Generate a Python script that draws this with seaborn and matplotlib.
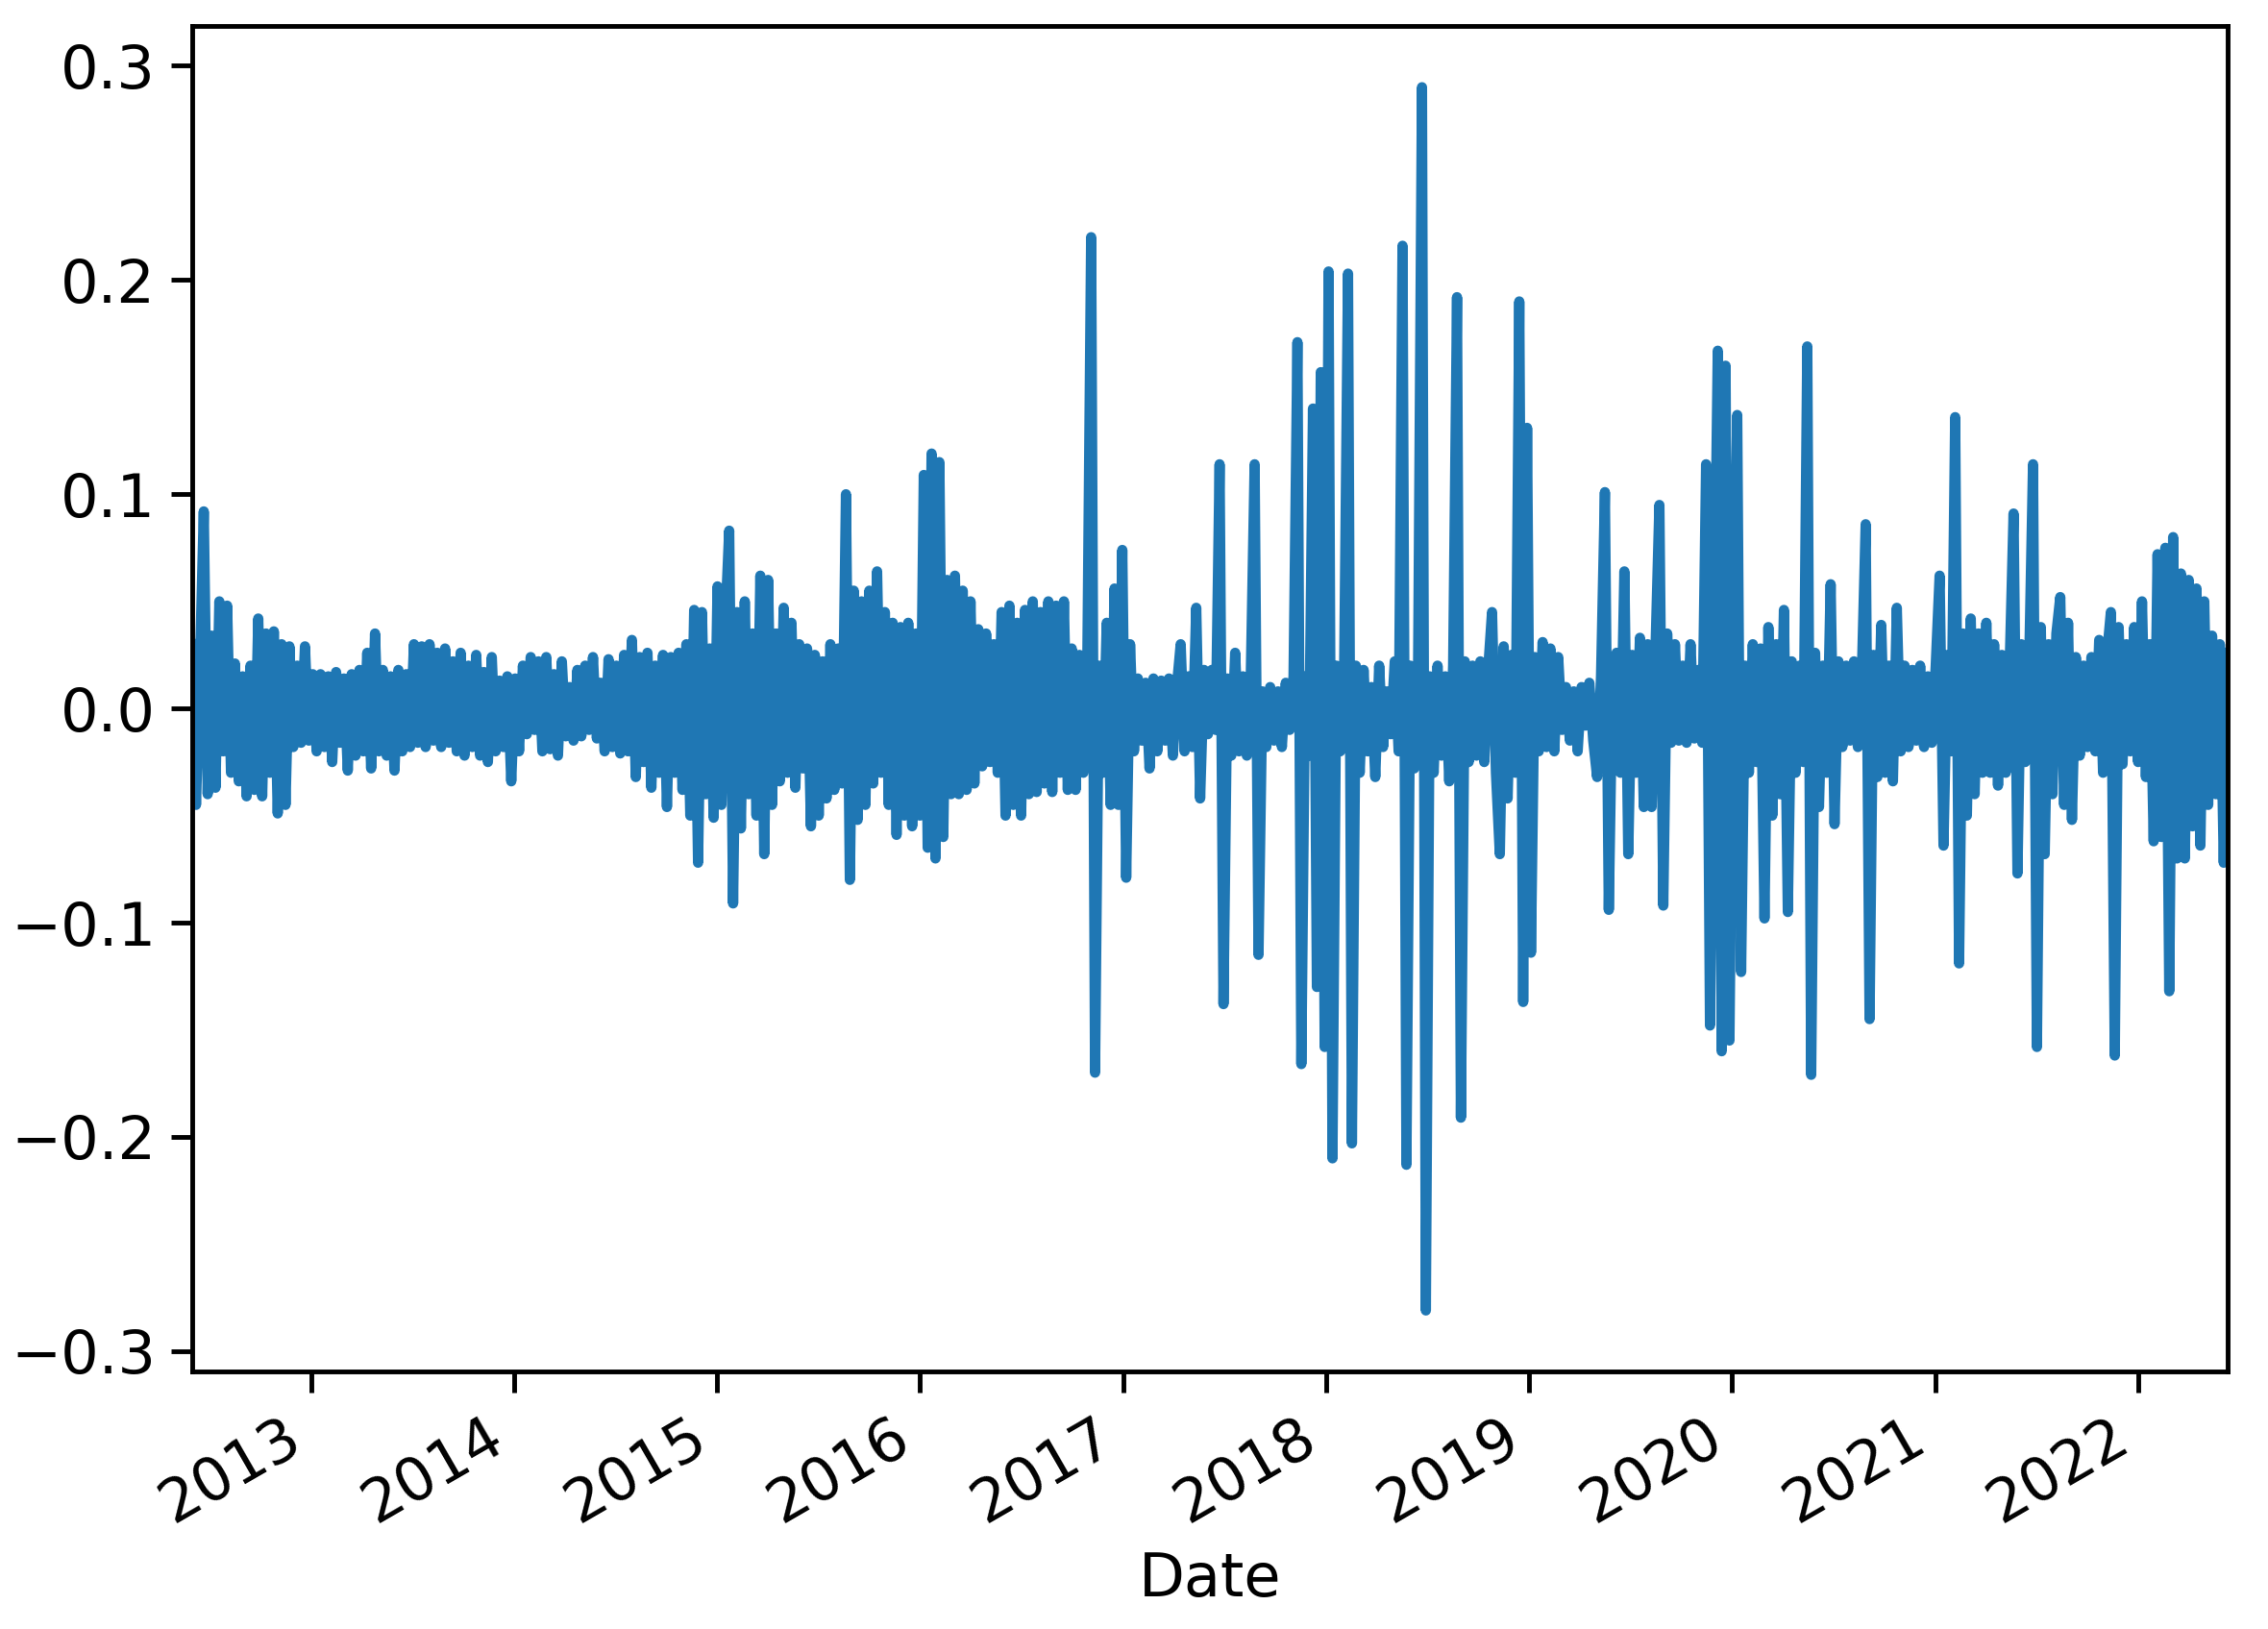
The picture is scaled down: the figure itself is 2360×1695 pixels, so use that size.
import matplotlib
matplotlib.use("Agg")
import matplotlib.pyplot as plt
import matplotlib.dates as mdates
import seaborn as sns
import pandas as pd
import numpy as np

# weekly returns (alternating highs/lows of the band + spikes)
start_date = "2012-06-01"

r_2012 = [0.03, -0.045, 0.02, 0.092, -0.04, 0.034, -0.037, 0.05, -0.02, 0.048, -0.03, 0.021,
          -0.034, 0.015, -0.041, 0.02, -0.038, 0.042, -0.041, 0.035, -0.03, 0.036, -0.049, 0.03,
          -0.045, 0.029, -0.018, 0.02, -0.016, 0.029, -0.015, 0.016]
r_2013 = [-0.02, 0.016, -0.018, 0.015, -0.025, 0.017, -0.016, 0.014, -0.029, 0.016, -0.022, 0.018,
          -0.02, 0.026, -0.028, 0.035, -0.02, 0.018, -0.022, 0.015, -0.029, 0.018, -0.02, 0.016,
          -0.018, 0.03, -0.016, 0.029, -0.018, 0.03, -0.015, 0.026, -0.018, 0.028, -0.016]
r_2014a = [0.022, -0.02, 0.026, -0.022, 0.02, -0.018, 0.025, -0.022, 0.017, -0.025, 0.024, -0.02,
           0.013, -0.018, 0.015, -0.034, 0.014, -0.02, 0.02, -0.012, 0.024, -0.01, 0.022, -0.02,
           0.024, -0.019, 0.016, -0.022, 0.022, -0.013, 0.01, -0.015, 0.018, -0.013, 0.02, -0.01,
           0.024, -0.014, 0.012]
r_2014b = [-0.02, 0.023, -0.018, 0.02, -0.021, 0.025, -0.02, 0.032, -0.032, 0.024, -0.025, 0.026,
           -0.037, 0.02, -0.03, 0.025, -0.046, 0.024, -0.03, 0.026, -0.038, 0.03, -0.05, 0.046,
           -0.072, 0.045, -0.04]
r_2015 = [0.028, -0.051, 0.057, -0.045, 0.04, 0.083, -0.091, 0.045, -0.056, 0.05, -0.04, 0.035,
          -0.05, 0.062, -0.068, 0.06, -0.045, 0.035, -0.034, 0.047, -0.03, 0.04, -0.037, 0.03,
          -0.028, 0.028, -0.055, 0.025, -0.05, 0.022, -0.042, 0.03, -0.038, 0.028, -0.035, 0.1,
          -0.08, 0.055, -0.052, 0.05, -0.045, 0.055, -0.035, 0.064, -0.03, 0.045, -0.045, 0.04,
          -0.059, 0.038, -0.05]
r_2016 = [0.04, -0.055, 0.035, -0.05, 0.109, -0.065, 0.119, -0.07, 0.115, -0.06, 0.06, -0.04,
          0.062, -0.04, 0.055, -0.038, 0.05, -0.035, 0.037, -0.027, 0.035, -0.025, 0.03, -0.03,
          0.045, -0.05, 0.048, -0.045, 0.04, -0.05, 0.046, -0.04, 0.05, -0.039, 0.045, -0.035,
          0.05, -0.039, 0.048, -0.03, 0.05, -0.038, 0.028, -0.038, 0.025, -0.03, 0.02, 0.22,
          -0.17, 0.02, -0.03, 0.04, -0.045, 0.056, -0.045, 0.074, -0.079, 0.03, -0.02, 0.014,
          -0.015, 0.012, -0.028, 0.014, -0.02, 0.013, -0.015, 0.014, -0.022, 0.01, 0.03, -0.02,
          0.015, -0.018, 0.047, -0.042, 0.018]
r_2017 = [-0.012, 0.018, -0.01, 0.114, -0.138, 0.014, -0.022, 0.026, -0.02, 0.015, -0.022, 0.014,
          0.114, -0.115, 0.008, -0.018, 0.01, -0.015, 0.008, -0.018, 0.012, -0.01, 0.015, 0.171,
          -0.166, 0.015, -0.022, 0.14, -0.13, 0.157, -0.158, 0.204, -0.21, 0.02, -0.02, 0.018,
          0.203, -0.203, 0.02, -0.03, 0.018, -0.02, 0.01, -0.032, 0.02, -0.018, 0.008, -0.012,
          0.022, -0.02, 0.216, -0.213, 0.02, -0.028, 0.018, 0.29, -0.281, 0.015, -0.03, 0.02,
          -0.022, 0.015, -0.034, 0.02, 0.192, -0.191, 0.022, -0.025, 0.02, -0.022, 0.022, -0.025,
          0.018, 0.045, -0.03, -0.068, 0.029, -0.042, 0.025, -0.03]
r_2019 = [0.19, -0.137, 0.131, -0.114, 0.024, -0.02, 0.031, -0.018, 0.028, -0.02, 0.024, -0.01,
          0.01, -0.015, 0.008, -0.02, 0.01, -0.008, 0.012, -0.015, -0.032, 0.015, 0.101, -0.094,
          0.02, 0.026, -0.03, 0.064, -0.068, 0.025, -0.03, 0.033, -0.046, 0.03, -0.046, 0.028,
          0.095, -0.092, 0.035, -0.016, 0.03, -0.015, 0.02, -0.016, 0.03, -0.014, 0.018, -0.016,
          0.114, -0.148]
r_2020 = [0.02, 0.167, -0.16, 0.16, -0.155, 0.03, 0.137, -0.123, 0.02, -0.03, 0.03, -0.025,
          0.028, -0.098, 0.038, -0.05, 0.03, -0.04, 0.046, -0.095, 0.022, -0.03, 0.02, -0.025,
          0.169, -0.171, 0.026, -0.046, 0.02, -0.03, 0.058, -0.054, 0.022, -0.018, 0.02, -0.015,
          0.022, -0.018, 0.015, 0.086, -0.145, 0.025, -0.032, 0.039, -0.03, 0.02, -0.034, 0.047,
          -0.02, 0.02, -0.018, 0.018, -0.015, 0.02, -0.018, 0.015, -0.016, 0.02]
r_2021 = [0.062, -0.064, 0.025, -0.02, 0.136, -0.119, 0.035, -0.05, 0.042, -0.04, 0.035, -0.03,
          0.04, -0.03, 0.03, -0.036, 0.025, -0.03, 0.02, 0.091, -0.077, 0.03, -0.025, 0.02,
          0.114, -0.158, 0.038, -0.068, 0.03, -0.04, 0.035, 0.052, -0.045, 0.04, -0.052, 0.024,
          -0.022, 0.02, -0.018, 0.024, -0.02, 0.032, -0.03, 0.025, 0.045, -0.162, 0.038, -0.026,
          0.03, -0.02, 0.038, -0.025, 0.05, -0.032, 0.03, -0.062, 0.072, -0.06, 0.075, -0.132,
          0.08, -0.07, 0.063, -0.07, 0.06, -0.055, 0.056, -0.064, 0.05, -0.045, 0.034, -0.04,
          0.03, -0.072, 0.026]

returns = (r_2012 + r_2013 + r_2014a + r_2014b + r_2015 + r_2016 + r_2017
           + r_2019 + r_2020 + r_2021)
dates = pd.date_range(start_date, periods=len(returns), freq="7D")
df = pd.DataFrame({"Date": dates, "ret": returns})

plt.rcParams["font.size"] = 14
fig = plt.figure(figsize=(2360 / 320, 1695 / 320), dpi=320)
ax = fig.add_axes([0.0847, 0.158, 0.8975, 0.826])

sns.lineplot(data=df, x="Date", y="ret", ax=ax, color="#1f77b4", linewidth=2.4,
             estimator=None)

ax.set_xlim(df["Date"].iloc[0], df["Date"].iloc[-1])
ax.set_yticks([-0.3, -0.2, -0.1, 0.0, 0.1, 0.2, 0.3])
ax.xaxis.set_major_locator(mdates.YearLocator())
ax.xaxis.set_major_formatter(mdates.DateFormatter("%Y"))
plt.setp(ax.get_xticklabels(), rotation=30, ha="right")
ax.tick_params(length=5, width=1.1)
ax.set_xlabel("Date")
ax.set_ylabel("")
for s in ax.spines.values():
    s.set_linewidth(1.1)

fig.savefig("out.png", dpi=320)
